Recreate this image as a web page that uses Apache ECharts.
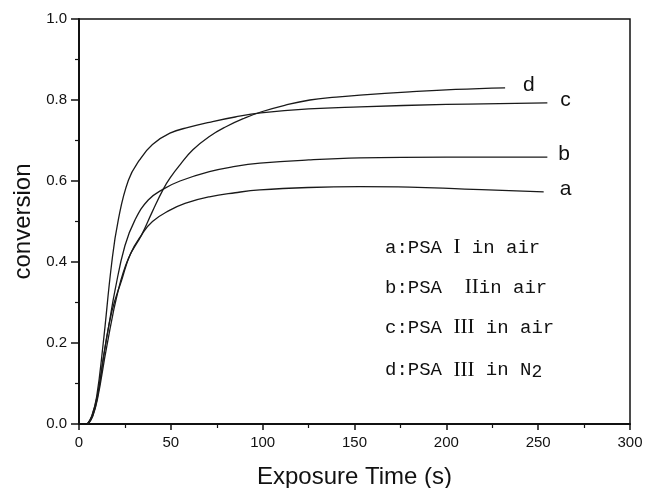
<!DOCTYPE html>
<html>
<head>
<meta charset="utf-8">
<script src="https://cdn.jsdelivr.net/npm/echarts@6/dist/echarts.min.js"></script>
<style>
  html, body { margin: 0; padding: 0; background: #fff; }
  #chart { width: 647px; height: 488px; }
</style>
</head>
<body>
<div id="chart"></div>
<script>
// conversion vs exposure time
const seriesA = [[5, 0], [7.5, 0.02], [10, 0.065], [14.2, 0.19], [18, 0.28], [23.2, 0.355], [28, 0.42], [34.1, 0.467], [40, 0.5], [49.5, 0.528], [57.7, 0.545], [71, 0.561], [85, 0.571], [98.5, 0.578], [125, 0.584], [153, 0.586], [180, 0.585], [210, 0.58], [253, 0.573]];
const seriesB = [[4.5, 0], [7, 0.02], [10, 0.07], [13.5, 0.17], [16.5, 0.25], [19.6, 0.33], [25, 0.44], [30.5, 0.504], [37.7, 0.553], [45.9, 0.58], [55, 0.6], [71, 0.623], [85, 0.636], [98.5, 0.644], [125, 0.652], [153, 0.657], [200, 0.659], [255, 0.659]];
const seriesC = [[4.5, 0], [7, 0.02], [9.6, 0.067], [13.2, 0.2], [17.8, 0.397], [21.4, 0.504], [26.9, 0.602], [33, 0.652], [40, 0.69], [49.5, 0.718], [60, 0.733], [71, 0.745], [85, 0.758], [99, 0.768], [125, 0.778], [153, 0.783], [200, 0.789], [255, 0.793]];
const seriesD = [[5, 0], [7.5, 0.02], [10, 0.06], [15.1, 0.191], [21.4, 0.331], [27, 0.41], [34.1, 0.467], [40, 0.525], [45.9, 0.58], [50, 0.61], [55, 0.64], [62, 0.677], [71, 0.71], [80, 0.734], [90, 0.755], [99.4, 0.771], [112, 0.787], [125.7, 0.8], [140, 0.807], [153, 0.812], [180, 0.82], [205, 0.826], [232, 0.83]];
const curveNames = ['a', 'b', 'c', 'd'];
// legend rows: [prefix, roman numeral, suffix]
const legendRows = [
  ['a:PSA ', 'I', ' in air'],
  ['b:PSA  ', 'II', 'in air'],
  ['c:PSA ', 'III', ' in air'],
  ['d:PSA ', 'III', ' in N'],
];

const chart = echarts.init(document.getElementById('chart'));
const sans = 'Liberation Sans, Arial, sans-serif';
const mono = 'Liberation Mono, monospace';

function curve(name, data, distance) {
  return {
    name: name,
    type: 'line',
    data: data,
    smooth: 0.45,
    symbol: 'none',
    lineStyle: { color: '#1a1a1a', width: 1.3 },
    endLabel: {
      show: true,
      formatter: name,
      distance: distance,
      offset: [0, -3],
      color: '#111',
      fontSize: 21,
      fontFamily: sans,
    },
  };
}

const legendText = legendRows.map((r, i) => ({
  type: 'text',
  left: 385,
  // the last row carries a subscript, which makes its box taller
  top: 237 + i * 40 - (i === 3 ? 6 : 0),
  style: {
    text: '{t|' + r[0] + '}{n|' + r[1] + '}{t|' + r[2] + '}' + (i === 3 ? '{sub|2}' : ''),
    rich: {
      t: { fontSize: 19, lineHeight: 22, fontFamily: mono, fill: '#111' },
      n: { fontSize: 21, lineHeight: 22, fontFamily: 'Liberation Serif, serif', fill: '#111' },
      sub: { fontSize: 18, lineHeight: 22, padding: [12, 0, 0, 0], verticalAlign: 'bottom', fontFamily: mono, fill: '#111' },
    },
  },
}));

chart.setOption({
  animation: false,
  backgroundColor: '#fff',
  grid: {
    left: 79, right: 17, top: 19, bottom: 64,
    outerBoundsMode: 'none',
    show: true, borderColor: '#111', borderWidth: 1.5,
  },
  xAxis: {
    type: 'value',
    min: 0, max: 300, interval: 50,
    name: 'Exposure Time (s)',
    nameLocation: 'middle',
    nameGap: 41,
    nameTextStyle: { fontSize: 24, color: '#111', fontFamily: sans },
    axisLine: { show: true, lineStyle: { color: '#111', width: 2 } },
    axisTick: { show: true, length: 6, lineStyle: { color: '#111', width: 1.5 } },
    minorTick: { show: true, splitNumber: 2, length: 4, lineStyle: { color: '#111', width: 1.2 } },
    axisLabel: { fontSize: 15, color: '#111', margin: 11, fontFamily: sans },
    splitLine: { show: false },
  },
  yAxis: {
    type: 'value',
    min: 0, max: 1, interval: 0.2,
    name: 'conversion',
    nameLocation: 'middle',
    nameGap: 42,
    nameTextStyle: { fontSize: 24, color: '#111', fontFamily: sans },
    axisLine: { show: true, lineStyle: { color: '#111', width: 2 } },
    axisTick: { show: true, length: 8, lineStyle: { color: '#111', width: 1.5 } },
    minorTick: { show: true, splitNumber: 2, length: 4, lineStyle: { color: '#111', width: 1.2 } },
    axisLabel: {
      fontSize: 15, color: '#111', margin: 12, fontFamily: sans,
      formatter: (v) => v.toFixed(1),
    },
    splitLine: { show: false },
  },
  graphic: legendText,
  series: [
    curve(curveNames[0], seriesA, 16),
    curve(curveNames[1], seriesB, 11),
    curve(curveNames[2], seriesC, 13),
    curve(curveNames[3], seriesD, 18),
  ],
});

window.addEventListener('resize', () => { chart.resize(); });
</script>
</body>
</html>
